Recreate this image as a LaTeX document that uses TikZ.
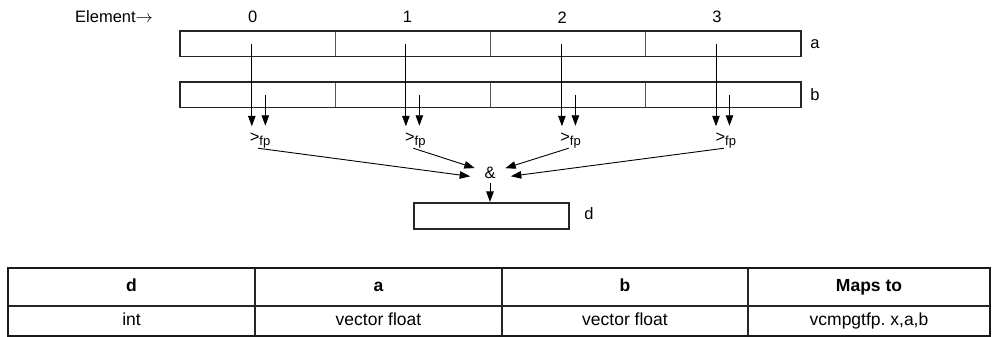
\documentclass[tikz,border=0pt]{standalone}
\usepackage{fontspec}
\setmainfont{Liberation Sans}
\frenchspacing
\usetikzlibrary{arrows.meta,calc}
\begin{document}
\begin{tikzpicture}[x=1pt,y=-1pt,
  lbl/.style={inner sep=0pt, font=\fontsize{16.5}{19}\selectfont},
  cell/.style={draw=black!65, line width=0.8pt, minimum width=155.25pt, minimum height=25.5pt, inner sep=0pt, outer sep=0pt, anchor=north west},
  box/.style={draw=black!85, line width=1.6pt},
  arr/.style={-{Triangle[length=10.5pt,width=7.5pt]}, line width=0.9pt},
  tcell/.style={draw=black!85, line width=1.4pt, inner sep=0pt, outer sep=0pt, anchor=north west, text height=12pt, text depth=3.5pt, font=\fontsize{17.5}{20}\selectfont},
]
\useasboundingbox (0,0) rectangle (996,337);

% vector rows
\foreach \i/\x in {0/180,1/335.25,2/490.5,3/645.75} {
  \node[cell] (a\i) at (\x,31) {};
  \node[cell] (b\i) at (\x,82) {};
}
\draw[box] (a0.north west) rectangle (a3.south east);
\draw[box] (b0.north west) rectangle (b3.south east);
\node[lbl] (la) at (815,44) {a};
\node[lbl] (lb) at (815,95) {b};

% header labels
\node[lbl, anchor=west] (el) at (75,17) {Element\(\rightarrow\)};
\foreach \i/\dx in {0/-5,1/-5.5,2/-6,3/-6.5} {
  \node[lbl] (n\i) at ($(a\i.center)+(\dx,-26.5)$) {\i};
}

% compare arrows
\foreach \i/\dl in {0/-5.8,1/-7,2/-6.2,3/-7.4} {
  \coordinate (sa\i) at ($(a\i.center)+(\dl,0)$);
  \coordinate (sb\i) at ($(b\i.center)+(\dl+13.5,0)$);
  \coordinate (ta\i) at ($(a\i.center)+(\dl,82.5)$);
  \coordinate (tb\i) at ($(b\i.center)+(\dl+13.5,31)$);
  \draw[arr] (sa\i) -- (ta\i);
  \draw[arr] (sb\i) -- (tb\i);
  \node[lbl, anchor=base west] (g\i) at ($(a\i.center)+(-8,98.5)$)
     {>\raisebox{-3.5pt}{\fontsize{13}{13}\selectfont fp}};
  \coordinate (o\i) at ($(a\i.center)+(0.5,104.5)$);
}

% and node
\node[lbl] (and) at (490,173) {\&};
\draw[arr, shorten >=20pt] (o0) -- (and.south);
\draw[arr, shorten >=16pt] (o1) -- (and.center);
\draw[arr, shorten >=16pt] (o2) -- (and.center);
\draw[arr, shorten >=21pt] (o3) -- (and.south);

% result d
\node[box, minimum width=155pt, minimum height=26.5pt, inner sep=0pt] (d) at (491.5,216) {};
\node[lbl] (ld) at (589,214) {d};
\draw[arr, shorten <=4.5pt] (and.south) -- (and.south |- d.north);

% table
\foreach \i/\x/\w/\h/\v in {0/8/247/d/int,1/255/247/a/vector float,2/502/246/b/vector float,3/748/242/Maps to/{vcmpgtfp. x,a,b}} {
  \node[tcell, minimum width=\w pt, minimum height=38.5pt] (h\i) at (\x,267.5) {\bfseries \h};
  \node[tcell, minimum width=\w pt, minimum height=30pt] (r\i) at (\x,306) {\v};
}
\draw[draw=black!90, line width=2pt] (h0.north west) rectangle (r3.south east);
\end{tikzpicture}
\end{document}
